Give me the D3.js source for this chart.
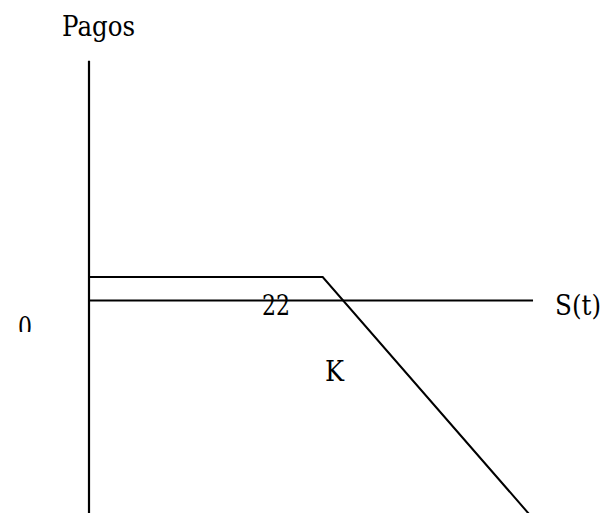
<!DOCTYPE html>
<html><head><meta charset="utf-8">
<script src="https://cdn.jsdelivr.net/npm/d3@7"></script>
<style>html,body{margin:0;padding:0;background:#fff;}svg{display:block;}</style>
</head><body>
<script>
// Data
const strike = 50;          // K
const premium = 5;          // flat payoff level before K
const payoffX = [0, 50, 95];
const payoffY = [5, 5, -46.4];
const axisXRange = [0, 95];
const axisYRange = [-46.4, 51];
const labels = { yTitle: "Pagos", xTitle: "S(t)", origin: "0", level: "22", strikeLabel: "K" };

const W = 606, H = 513;
const svg = d3.select("body").append("svg").attr("width", W).attr("height", H);

const x = d3.scaleLinear().domain([0, 50]).range([89, 322.7]);
const y = d3.scaleLinear().domain([0, 5]).range([300.5, 277]);

// axes
svg.append("line").attr("x1", x(0)).attr("x2", x(0))
  .attr("y1", y(axisYRange[1])).attr("y2", y(axisYRange[0]))
  .attr("stroke", "#000").attr("stroke-width", 2.2);
svg.append("line").attr("x1", x(axisXRange[0])).attr("x2", x(axisXRange[1]))
  .attr("y1", y(0)).attr("y2", y(0))
  .attr("stroke", "#000").attr("stroke-width", 2);

// payoff line
const pts = payoffX.map((d, i) => [d, payoffY[i]]);
svg.append("path").datum(pts)
  .attr("d", d3.line().x(d => x(d[0])).y(d => y(d[1])))
  .attr("fill", "none").attr("stroke", "#000").attr("stroke-width", 2);

const ff = "DejaVu Serif";
function label(txt, px, py, len, clip) {
  const t = svg.append("text").attr("x", px).attr("y", py).text(txt)
    .attr("font-size", 28).style("font-family", ff)
    .attr("textLength", len).attr("lengthAdjust", "spacingAndGlyphs");
  if (clip) t.attr("clip-path", clip);
  return t;
}
label(labels.yTitle, 62, 36, 73);
label(labels.xTitle, 555, 315, 46);
label(labels.level, 262, 315, 28);
label(labels.strikeLabel, 325, 381, 19);

svg.append("clipPath").attr("id", "clip0").append("rect")
  .attr("x", 0).attr("y", 0).attr("width", 60).attr("height", 332);
label(labels.origin, 18, 337, 14, "url(#clip0)");
</script>
</body></html>
